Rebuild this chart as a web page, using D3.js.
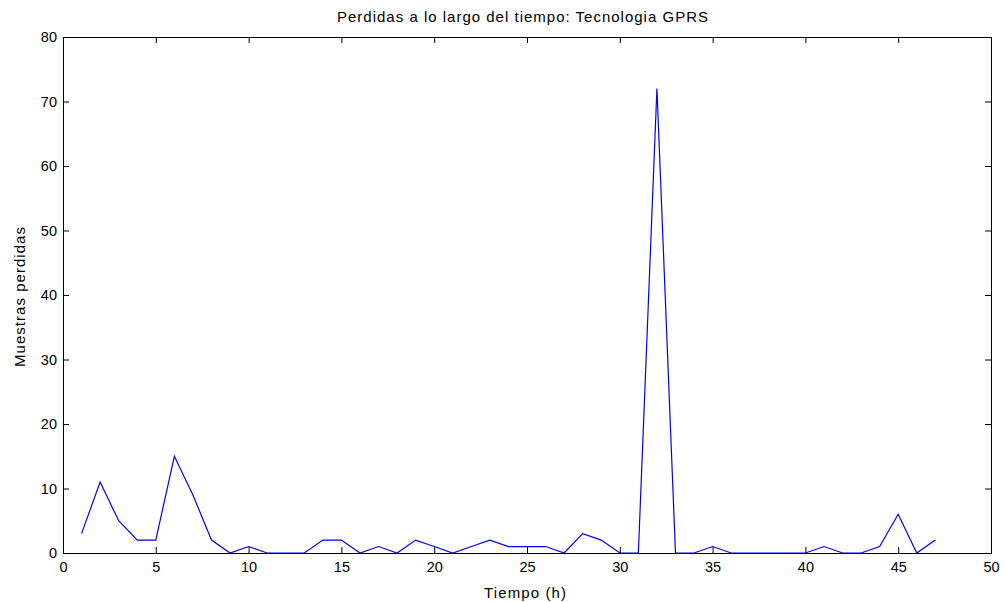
<!DOCTYPE html>
<html><head><meta charset="utf-8">
<script src="https://cdn.jsdelivr.net/npm/d3@7"></script>
<style>body{margin:0;background:#fff}svg{display:block}text{font-family:"Liberation Sans",Arial,sans-serif;fill:#000}</style>
</head><body><svg id="c" width="1005" height="602"></svg>
<script>
const hours = [1,2,3,4,5,6,7,8,9,10,11,12,13,14,15,16,17,18,19,20,21,22,23,24,25,26,27,28,29,30,31,32,33,34,35,36,37,38,39,40,41,42,43,44,45,46,47];
const lost  = [3,11,5,2,2,15,9,2,0,1,0,0,0,2,2,0,1,0,2,1,0,1,2,1,1,1,0,3,2,0,0,72,0,0,1,0,0,0,0,0,1,0,0,1,6,0,2];
const xTicks = [0,5,10,15,20,25,30,35,40,45,50];
const yTicks = [0,10,20,30,40,50,60,70,80];
const title = "Perdidas a lo largo del tiempo: Tecnologia GPRS";
const xLabel = "Tiempo (h)";
const yLabel = "Muestras perdidas";

const L=63,R=991,T=37,B=553;
const svg=d3.select("#c");
const x=d3.scaleLinear().domain([0,50]).range([L,R]);
const y=d3.scaleLinear().domain([0,80]).range([B,T]);
const tl=6;
svg.append("g").attr("transform",`translate(0,${B})`).call(d3.axisBottom(x).tickValues(xTicks).tickSize(-tl).tickPadding(9).tickFormat(d3.format("d")))
 .call(g=>{g.select(".domain").remove();g.selectAll("text").attr("font-size",14.5);});
svg.append("g").attr("transform",`translate(0,${T})`).call(d3.axisTop(x).tickValues(xTicks).tickSize(-tl).tickFormat(""))
 .call(g=>g.select(".domain").remove());
svg.append("g").attr("transform",`translate(${L},0)`).call(d3.axisLeft(y).tickValues(yTicks).tickSize(-tl).tickPadding(6).tickFormat(d3.format("d")))
 .call(g=>{g.select(".domain").remove();g.selectAll("text").attr("font-size",14.5);});
svg.append("g").attr("transform",`translate(${R},0)`).call(d3.axisRight(y).tickValues(yTicks).tickSize(-tl).tickFormat(""))
 .call(g=>g.select(".domain").remove());
svg.selectAll(".tick line").attr("stroke","#000");
svg.append("rect").attr("x",L+0.5).attr("y",T+0.5).attr("width",R-L).attr("height",B-T).attr("fill","none").attr("stroke","#000");
svg.append("path").datum(hours.map((h,i)=>[h,lost[i]])).attr("fill","none").attr("stroke","#0000ff").attr("stroke-width",1.2)
 .attr("d",d3.line().x(d=>x(d[0])).y(d=>y(d[1])));
svg.append("text").attr("x",522.5).attr("y",22).attr("text-anchor","middle").attr("font-size",15)
 .attr("textLength",371).attr("lengthAdjust","spacing").text(title);
svg.append("text").attr("x",525).attr("y",598).attr("text-anchor","middle").attr("font-size",15)
 .attr("textLength",82).attr("lengthAdjust","spacing").text(xLabel);
svg.append("text").attr("transform",`translate(25,297) rotate(-90)`).attr("text-anchor","middle").attr("font-size",15)
 .attr("textLength",140).attr("lengthAdjust","spacing").text(yLabel);
</script></body></html>
